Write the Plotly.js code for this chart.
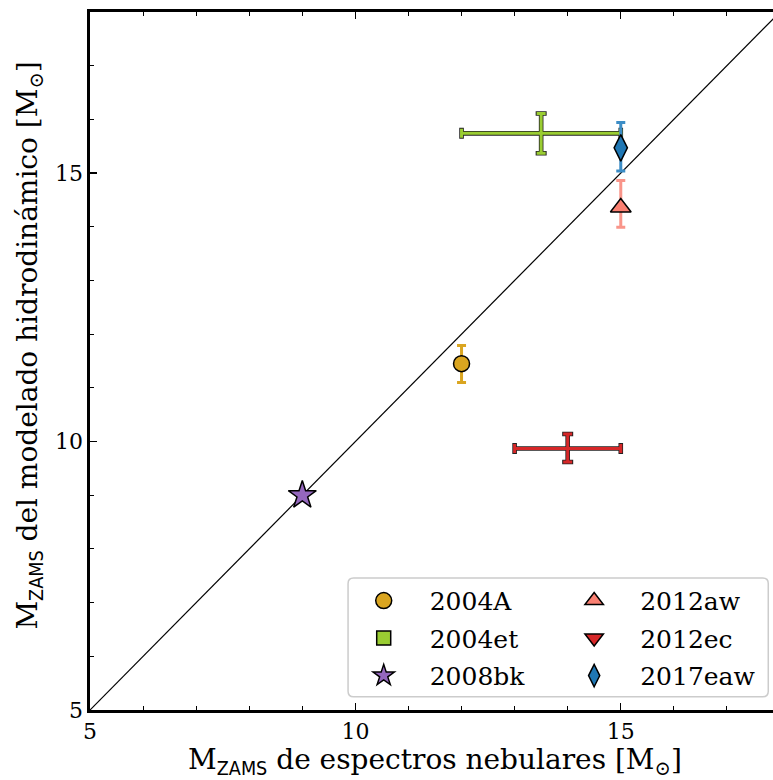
<!DOCTYPE html>
<html>
<head>
<meta charset="utf-8">
<script src="https://cdn.plot.ly/plotly-3.0.1.min.js"></script>
<style>
  html, body { margin: 0; padding: 0; overflow: hidden; background: #fff; }
  #chart { width: 792px; height: 780px; }
</style>
</head>
<body>
<div id="chart"></div>
<script>
// Supernova progenitor masses: nebular spectra vs. hydrodynamical models
const names   = ['2004A', '2004et', '2008bk', '2012aw', '2012ec', '2017eaw'];
const xNeb    = [12, 13.5, 9, 15, 14, 15];
const xErr    = [0, 1.5, 0, 0, 1, 0];
const yHydro  = [11.45, 15.74, 9.0, 14.36, 9.87, 15.47];
const yErrHi  = [0.34, 0.37, 0, 0.50, 0.27, 0.47];
const yErrLo  = [0.35, 0.37, 0, 0.37, 0.25, 0.43];
const colors  = ['#DAA520', '#9ACD32', '#9467BD', '#FA8072', '#D62728', '#1F77B4'];
const errCols = ['#DAA520', '#9ACD32', '#9467BD', '#F9958A', '#D62728', '#3C8DC6'];
const symbols = ['circle', 'square', 'star', 'triangle-up', 'triangle-down', 'diamond-tall'];
const sizes   = [16, 14, 21, 18, 18, 19];
// points whose symbol is covered by the error cross
const showMarker = [true, false, true, true, false, true];
// two legend columns
const legendCol = ['legend', 'legend', 'legend', 'legend2', 'legend2', 'legend2'];

const oneToOne = [5, 18];

const serif = '"DejaVu Serif", serif';
const traces = [];

traces.push({
  x: oneToOne, y: oneToOne, mode: 'lines',
  line: {color: '#000', width: 1.2},
  showlegend: false, hoverinfo: 'skip'
});

// dark underlay for the error bars
names.forEach((n, i) => {
  if (xErr[i] === 0 && yErrHi[i] === 0) return;
  traces.push({
    x: [xNeb[i]], y: [yHydro[i]], mode: 'markers',
    marker: {size: 1, color: 'rgba(0,0,0,0)'},
    error_x: {type: 'data', array: [xErr[i]], visible: xErr[i] > 0, color: '#222', thickness: 4.6, width: 5.5},
    error_y: {type: 'data', symmetric: false, array: [yErrHi[i]], arrayminus: [yErrLo[i]],
              visible: yErrHi[i] > 0 && xErr[i] > 0, color: '#222', thickness: 4.6, width: 5.5},
    showlegend: false, hoverinfo: 'skip'
  });
});

// data points with their error bars
names.forEach((n, i) => {
  traces.push({
    x: [xNeb[i]], y: [yHydro[i]], mode: 'markers', name: n,
    marker: {
      symbol: symbols[i], size: sizes[i], color: colors[i],
      opacity: showMarker[i] ? 1 : 0,
      line: {color: '#000', width: 1.5}
    },
    error_x: {type: 'data', array: [xErr[i]], visible: xErr[i] > 0, color: errCols[i], thickness: 3, width: 4.5},
    error_y: {type: 'data', symmetric: false, array: [yErrHi[i]], arrayminus: [yErrLo[i]],
              visible: yErrHi[i] > 0, color: errCols[i], thickness: 3, width: 4.5},
    showlegend: false
  });
});

// legend entries (one group each so the row gap can be set)
names.forEach((n, i) => {
  traces.push({
    x: [null], y: [null], mode: 'markers', name: n,
    legend: legendCol[i], legendgroup: 'g' + i,
    marker: {symbol: symbols[i], size: sizes[i], color: colors[i], line: {color: '#000', width: 1.5}},
    showlegend: true
  });
});

const axisCommon = {
  range: [5, 18], dtick: 5, tick0: 5,
  ticks: 'inside', ticklen: 7, tickwidth: 1.2, tickcolor: '#000',
  minor: {dtick: 1, ticks: 'inside', ticklen: 4, tickwidth: 1, tickcolor: '#000'},
  showline: true, linewidth: 2.6, linecolor: '#000', mirror: 'allticks',
  showgrid: false, zeroline: false,
  tickfont: {family: serif, size: 22, color: '#000'}
};

const msun = 'M<sub>⊙</sub>';
const mzams = 'M<sub><span style="font-family:DejaVu Sans Condensed">ZAMS</span></sub>';

const legendCommon = {
  orientation: 'v', yanchor: 'bottom', xanchor: 'left',
  font: {family: serif, size: 25, color: '#000'},
  bgcolor: 'rgba(0,0,0,0)', borderwidth: 0,
  itemwidth: 82, tracegroupgap: 2
};

// rounded frame around both legend columns (paper fractions)
const bx0 = 0.374, bx1 = 0.983, by0 = 0.019, by1 = 0.189, rx = 0.008, ry = 0.008;
const framePath =
  `M${bx0 + rx},${by0} L${bx1 - rx},${by0} Q${bx1},${by0} ${bx1},${by0 + ry} ` +
  `L${bx1},${by1 - ry} Q${bx1},${by1} ${bx1 - rx},${by1} ` +
  `L${bx0 + rx},${by1} Q${bx0},${by1} ${bx0},${by1 - ry} ` +
  `L${bx0},${by0 + ry} Q${bx0},${by0} ${bx0 + rx},${by0} Z`;

const layout = {
  width: 792, height: 780,
  margin: {l: 90, r: 12, t: 12, b: 70},
  paper_bgcolor: '#fff', plot_bgcolor: 'rgba(0,0,0,0)',
  font: {family: serif},
  showlegend: true,
  xaxis: Object.assign({}, axisCommon, {
    title: {text: mzams + ' de espectros nebulares [' + msun + ']', font: {family: serif, size: 28, color: '#000'}, standoff: 6}
  }),
  yaxis: Object.assign({}, axisCommon),
  annotations: [{
    text: mzams + ' del modelado hidrodinámico [' + msun + ']',
    xref: 'paper', yref: 'paper', x: -0.087, y: 0.522,
    xanchor: 'center', yanchor: 'middle', textangle: -90, showarrow: false,
    font: {family: serif, size: 28, color: '#000'}
  }],
  legend: Object.assign({}, legendCommon, {x: 0.359, y: 0.016}),
  legend2: Object.assign({}, legendCommon, {x: 0.664, y: 0.016}),
  shapes: [{
    type: 'path', xref: 'paper', yref: 'paper', path: framePath,
    fillcolor: 'rgba(255,255,255,0.85)', line: {color: '#cccccc', width: 1.5}, layer: 'below'
  }]
};

Plotly.newPlot('chart', traces, layout, {displayModeBar: false, staticPlot: true});
</script>
</body>
</html>
